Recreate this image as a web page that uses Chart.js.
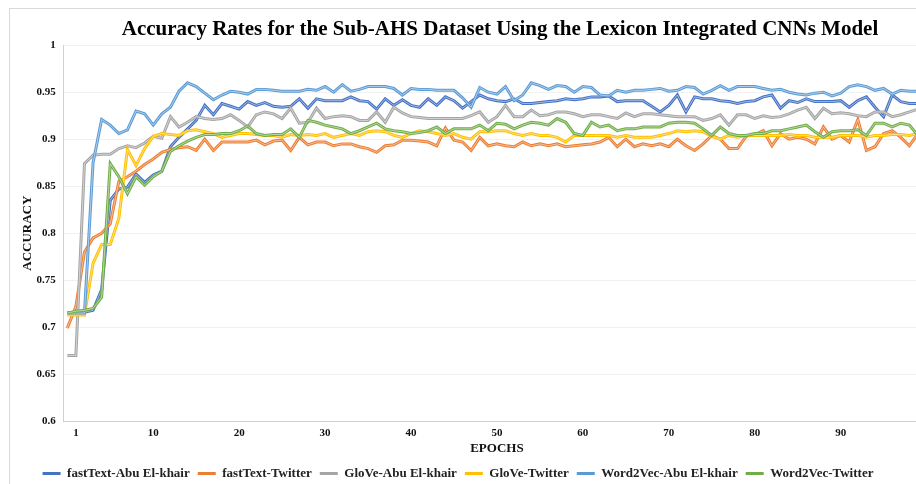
<!DOCTYPE html>
<html>
<head>
<meta charset="utf-8">
<title>Accuracy Rates - Sub-AHS</title>
<script src="https://cdn.jsdelivr.net/npm/chart.js@4.4.0/dist/chart.umd.min.js"></script>
<style>
  html, body { margin: 0; padding: 0; background: #fff; overflow: hidden; }
  #frame { position: absolute; left: 9px; top: 8px; width: 1000px; height: 520px; border: 1px solid #d9d9d9; }
  #wrap { position: absolute; left: 0; top: 0; width: 1000px; height: 490px; }
</style>
</head>
<body>
<div id="frame"></div>
<div id="wrap"><canvas id="accChart"></canvas></div>
<script>
// epochs (x categories)
var epochs = [0,1,2,3,4,5,6,7,8,9,10,11,12,13,14,15,16,17,18,19,20,21,22,23,24,25,26,27,28,29,30,
  31,32,33,34,35,36,37,38,39,40,41,42,43,44,45,46,47,48,49,50,51,52,53,54,55,56,57,58,59,60,
  61,62,63,64,65,66,67,68,69,70,71,72,73,74,75,76,77,78,79,80,81,82,83,84,85,86,87,88,89,90,
  91,92,93,94,95,96,97,98,99,100];
var xTicks = [1, 10, 20, 30, 40, 50, 60, 70, 80, 90, 100];

var seriesNames = ['fastText-Abu El-khair', 'fastText-Twitter', 'GloVe-Abu El-khair',
  'GloVe-Twitter', 'Word2Vec-Abu El-khair', 'Word2Vec-Twitter'];
var seriesColors = ['#4472C4', '#ED7D31', '#A5A5A5', '#FFC000', '#5B9BD5', '#70AD47'];

// accuracy per epoch
var fastTextAbu = [0.715,0.715,0.716,0.718,0.740,0.835,0.847,0.849,0.863,0.854,0.862,0.866,0.892,0.902,0.911,0.920,0.936,0.926,0.938,0.935,
  0.932,0.940,0.936,0.939,0.935,0.934,0.935,0.943,0.933,0.943,0.941,0.941,0.941,0.945,0.941,0.940,0.932,0.943,0.936,0.942,
  0.936,0.934,0.943,0.936,0.945,0.941,0.933,0.940,0.947,0.943,0.941,0.940,0.943,0.938,0.938,0.939,0.940,0.941,0.943,0.942,
  0.943,0.945,0.945,0.946,0.940,0.941,0.941,0.941,0.935,0.929,0.936,0.947,0.929,0.945,0.943,0.943,0.941,0.940,0.938,0.940,
  0.941,0.945,0.947,0.933,0.941,0.939,0.943,0.940,0.940,0.940,0.941,0.934,0.941,0.945,0.934,0.924,0.947,0.940,0.938,0.938,0.938];
var fastTextTw = [0.699,0.722,0.780,0.795,0.800,0.810,0.855,0.860,0.866,0.873,0.879,0.886,0.889,0.891,0.892,0.888,0.900,0.888,0.897,0.897,
  0.897,0.897,0.899,0.894,0.898,0.899,0.888,0.902,0.894,0.897,0.897,0.893,0.895,0.895,0.892,0.890,0.886,0.893,0.894,0.899,
  0.899,0.898,0.897,0.893,0.912,0.899,0.897,0.888,0.902,0.893,0.895,0.893,0.892,0.897,0.893,0.895,0.893,0.895,0.892,0.893,
  0.894,0.895,0.897,0.902,0.892,0.900,0.892,0.895,0.893,0.895,0.892,0.900,0.893,0.888,0.895,0.904,0.900,0.890,0.890,0.903,
  0.905,0.909,0.893,0.906,0.900,0.902,0.900,0.895,0.913,0.900,0.904,0.897,0.921,0.888,0.892,0.906,0.909,0.902,0.893,0.906,0.900];
var gloveAbu = [0.670,0.670,0.874,0.883,0.884,0.884,0.890,0.893,0.891,0.896,0.903,0.901,0.924,0.913,0.918,0.924,0.922,0.921,0.922,0.926,
  0.920,0.913,0.926,0.929,0.927,0.922,0.933,0.917,0.918,0.933,0.922,0.924,0.925,0.924,0.920,0.920,0.929,0.918,0.934,0.928,
  0.924,0.923,0.922,0.922,0.922,0.922,0.922,0.925,0.929,0.918,0.924,0.936,0.924,0.924,0.931,0.925,0.926,0.929,0.929,0.927,
  0.924,0.926,0.926,0.924,0.922,0.928,0.924,0.927,0.927,0.926,0.925,0.924,0.924,0.924,0.920,0.922,0.926,0.915,0.926,0.926,
  0.922,0.925,0.923,0.924,0.927,0.931,0.934,0.922,0.933,0.927,0.928,0.927,0.925,0.924,0.929,0.929,0.924,0.926,0.929,0.932,0.933];
var gloveTw = [0.713,0.713,0.713,0.768,0.788,0.788,0.816,0.889,0.872,0.890,0.903,0.906,0.905,0.904,0.909,0.910,0.908,0.906,0.902,0.904,
  0.906,0.906,0.905,0.904,0.904,0.902,0.905,0.904,0.905,0.904,0.906,0.902,0.904,0.906,0.904,0.908,0.909,0.908,0.904,0.902,
  0.906,0.909,0.908,0.906,0.904,0.906,0.902,0.900,0.908,0.908,0.909,0.909,0.906,0.904,0.906,0.904,0.904,0.902,0.897,0.904,
  0.904,0.904,0.904,0.904,0.902,0.904,0.902,0.902,0.902,0.904,0.906,0.909,0.908,0.909,0.908,0.903,0.900,0.904,0.902,0.904,
  0.904,0.904,0.904,0.904,0.905,0.904,0.904,0.902,0.902,0.902,0.904,0.904,0.904,0.902,0.904,0.904,0.905,0.905,0.904,0.906,0.905];
var word2vecAbu = [0.715,0.715,0.715,0.875,0.921,0.915,0.906,0.910,0.930,0.927,0.915,0.927,0.934,0.951,0.960,0.956,0.949,0.942,0.947,0.951,
  0.950,0.948,0.953,0.953,0.952,0.951,0.951,0.951,0.953,0.952,0.956,0.950,0.958,0.951,0.953,0.956,0.956,0.956,0.954,0.947,
  0.954,0.953,0.953,0.952,0.952,0.952,0.944,0.934,0.955,0.950,0.948,0.956,0.941,0.947,0.960,0.957,0.953,0.957,0.956,0.950,
  0.956,0.955,0.947,0.946,0.952,0.950,0.952,0.952,0.953,0.954,0.951,0.952,0.956,0.955,0.948,0.952,0.957,0.952,0.956,0.956,
  0.956,0.954,0.952,0.953,0.950,0.948,0.947,0.949,0.950,0.946,0.949,0.956,0.958,0.956,0.952,0.954,0.948,0.952,0.951,0.951,0.951];
var word2vecTw = [0.715,0.717,0.718,0.720,0.732,0.874,0.860,0.842,0.860,0.851,0.860,0.866,0.887,0.893,0.898,0.902,0.905,0.905,0.906,0.906,
  0.909,0.914,0.906,0.904,0.905,0.905,0.911,0.902,0.920,0.918,0.915,0.913,0.911,0.906,0.909,0.913,0.917,0.911,0.909,0.908,
  0.906,0.907,0.909,0.913,0.906,0.911,0.911,0.911,0.915,0.909,0.917,0.916,0.911,0.915,0.918,0.917,0.915,0.922,0.918,0.906,
  0.904,0.918,0.913,0.915,0.909,0.911,0.911,0.913,0.913,0.913,0.917,0.918,0.918,0.917,0.911,0.904,0.913,0.906,0.904,0.904,
  0.906,0.906,0.909,0.909,0.911,0.913,0.915,0.908,0.902,0.908,0.909,0.909,0.910,0.904,0.917,0.917,0.913,0.917,0.915,0.904,0.906];

var seriesValues = [fastTextAbu, fastTextTw, gloveAbu, gloveTw, word2vecAbu, word2vecTw];

Chart.defaults.font.family = "'Liberation Serif', 'Times New Roman', serif";
Chart.defaults.font.weight = 'bold';
Chart.defaults.color = '#111';

// thin light stroke through each line, like the office "double" line look
var hollowLines = {
  id: 'hollowLines',
  afterDatasetDraw: function(chart, args) {
    var pts = args.meta.data;
    var area = chart.chartArea;
    var ctx = chart.ctx;
    ctx.save();
    ctx.beginPath();
    ctx.rect(area.left, area.top, area.right - area.left, area.bottom - area.top);
    ctx.clip();
    ctx.beginPath();
    pts.forEach(function(p, i) {
      if (i === 0) ctx.moveTo(p.x, p.y); else ctx.lineTo(p.x, p.y);
    });
    ctx.lineWidth = 1;
    ctx.lineJoin = 'round';
    ctx.strokeStyle = 'rgba(255,255,255,0.5)';
    ctx.stroke();
    ctx.restore();
  }
};

// original figure is wider than the crop: title centred on the full figure,
// legend a bit left of it
var shiftBlocks = {
  id: 'shiftBlocks',
  afterLayout: function(chart) {
    chart.legend.left -= 15;
    chart.legend.right -= 15;
    chart.titleBlock.left += 27;
    chart.titleBlock.right += 27;
  }
};

var datasets = seriesNames.map(function(name, i) {
  return {
    label: name,
    data: seriesValues[i],
    borderColor: seriesColors[i],
    backgroundColor: seriesColors[i],
    borderWidth: 3,
    pointRadius: 0,
    tension: 0,
    order: seriesNames.length - i
  };
});

new Chart(document.getElementById('accChart'), {
  type: 'line',
  data: { labels: epochs, datasets: datasets },
  plugins: [hollowLines, shiftBlocks],
  options: {
    responsive: true,
    maintainAspectRatio: false,
    animation: false,
    layout: { padding: { left: 16, right: 70, top: 0, bottom: 0 } },
    plugins: {
      title: {
        display: true,
        text: 'Accuracy Rates for the Sub-AHS Dataset Using the Lexicon Integrated CNNs Model',
        color: '#000',
        font: { size: 21, weight: 'bold' },
        padding: { top: 17, bottom: 3 }
      },
      legend: {
        position: 'bottom',
        labels: {
          boxWidth: 18,
          boxHeight: 3,
          padding: 8,
          color: '#222',
          font: { size: 13, weight: 'bold' },
          sort: function(a, b) { return a.datasetIndex - b.datasetIndex; },
          generateLabels: function(chart) {
            return Chart.defaults.plugins.legend.labels.generateLabels(chart).map(function(l) {
              l.lineWidth = 0;
              return l;
            });
          }
        }
      },
      tooltip: { enabled: false }
    },
    scales: {
      x: {
        type: 'linear',
        min: -0.4,
        max: 100.4,
        afterBuildTicks: function(scale) {
          scale.ticks = xTicks.map(function(v) { return { value: v }; });
        },
        ticks: { autoSkip: false, maxRotation: 0, padding: 5, font: { size: 11 },
          callback: function(v) { return v; } },
        grid: { display: false, drawTicks: false },
        border: { display: true, color: '#d0d0d0', width: 1 },
        title: { display: true, text: 'EPOCHS', font: { size: 13, weight: 'bold' },
          padding: { top: -4, bottom: 3 } }
      },
      y: {
        min: 0.6,
        max: 1,
        ticks: { stepSize: 0.05, padding: 8, font: { size: 11 },
          callback: function(v) { return String(parseFloat(v.toFixed(2))); } },
        grid: { drawTicks: false, color: function(c) { return c.tick.value <= 0.6 ? 'rgba(0,0,0,0)' : '#f2f2f2'; } },
        border: { display: true, color: '#d0d0d0', width: 1 },
        title: { display: true, text: 'ACCURACY', font: { size: 13, weight: 'bold' },
          padding: { top: 4, bottom: -7 } }
      }
    }
  }
});
</script>
</body>
</html>
